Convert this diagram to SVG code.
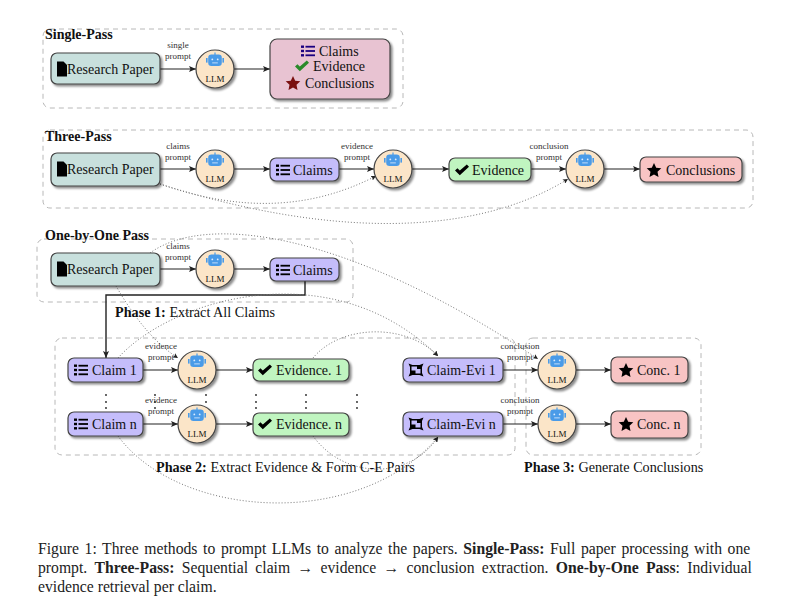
<svg xmlns="http://www.w3.org/2000/svg" width="801" height="614" viewBox="0 0 801 614">
<style>
text{font-family:"Liberation Serif","Times New Roman",serif;fill:#111}
.t{font-size:14px}
.p{font-size:14.2px}
.b{font-size:14px;font-weight:bold}
.c{font-size:15.7px;fill:#222}
.s{font-size:9px;text-anchor:middle;fill:#333}
.l{font-size:9px;text-anchor:middle;fill:#111}
.g{fill:none;stroke:#b8b8b8;stroke-width:1;stroke-dasharray:5 4}
.e{fill:none;stroke:#222;stroke-width:1.2;marker-end:url(#a)}
.d{fill:none;stroke:#777;stroke-width:1;stroke-dasharray:1 2;marker-end:url(#m)}
.n{stroke:#444;stroke-width:1.2;filter:url(#sh)}
.res{fill:#c8e0dd}.all{fill:#e8c3d2}.cl{fill:#c5bdfb}.ev{fill:#c0f5c0}.co{fill:#f8c4c4}.llm{fill:#fbe5c8}
</style>
<defs>
<filter id="sh" x="-20%" y="-20%" width="150%" height="150%"><feDropShadow dx="2" dy="2" stdDeviation="1.2" flood-color="#000" flood-opacity=".45"/></filter>
<marker id="a" markerUnits="userSpaceOnUse" markerWidth="7" markerHeight="6" refX="7" refY="3" orient="auto"><path d="M0 0L7 3L0 6L1.5 3z" fill="#222"/></marker>
<marker id="m" markerUnits="userSpaceOnUse" markerWidth="5" markerHeight="5" refX="5" refY="2.5" orient="auto"><path d="M0 0L5 2.5L0 5L1 2.5z" fill="#222"/></marker>
<g id="doc"><path d="M-5 -7.5H1.5L5 -4V7.5H-5z"/></g>
<g id="list"><rect x="-7" y="-5.5" width="3" height="2.4"/><rect x="-7" y="-1.2" width="3" height="2.4"/><rect x="-7" y="3.1" width="3" height="2.4"/><rect x="-2.5" y="-5.2" width="9.5" height="1.8"/><rect x="-2.5" y="-.9" width="9.5" height="1.8"/><rect x="-2.5" y="3.4" width="9.5" height="1.8"/></g>
<g id="chk"><path d="M-7 .5L-4.6 -1.8L-2.2 .6L4.8 -5.5L7 -3.2L-2.2 5.2z"/></g>
<g id="star"><path d="M0 -7L2.2 -2.3L7.3 -1.7L3.5 1.8L4.5 6.9L0 4.4L-4.5 6.9L-3.5 1.8L-7.3 -1.7L-2.2 -2.3z"/></g>
<g id="pair"><path fill-rule="evenodd" d="M-7.5 -6.5L-3.5 -5H3.5L7.5 -6.5L6 -3V3L7.5 6.5L3.5 5H-3.5L-7.5 6.5L-6 3V-3zM-4.5 -3.5V.5H-.5V3.5H4.5V-1H1V-3.5z"/></g>
<g id="bot"><rect x="-.6" y="-8.5" width="1.2" height="2.5" fill="#4a9be8"/><rect x="-6.8" y="-6.5" width="13.6" height="11.5" rx="3.2" fill="#4a9be8"/><rect x="-9" y="-3" width="1.6" height="4.6" fill="#4a9be8"/><rect x="7.4" y="-3" width="1.6" height="4.6" fill="#4a9be8"/><circle cx="-2.7" cy="-1.6" r=".9" fill="#dcecff"/><circle cx="2.7" cy="-1.6" r=".9" fill="#dcecff"/><rect x="-2.8" y="1.5" width="5.6" height=".8" fill="#dcecff"/></g>
</defs>
<rect width="801" height="614" fill="#fff"/>
<g id="frames">
<rect class="g" x="43" y="29" width="360" height="79" rx="7"/>
<rect class="g" x="43" y="130" width="710" height="78" rx="7"/>
<rect class="g" x="37" y="239" width="316" height="63" rx="7"/>
<rect class="g" x="55" y="338" width="460" height="117" rx="7"/>
<rect class="g" x="526" y="338" width="175" height="117" rx="7"/>
</g>
<g id="connectors">
<path class="e" d="M160 69H196"/><path class="e" d="M234 69H270"/>
<path class="e" d="M160 169H196"/><path class="e" d="M234 169H270"/><path class="e" d="M339 169H374"/><path class="e" d="M412 169H449"/><path class="e" d="M531 169H566"/><path class="e" d="M604 169H640"/>
<path class="d" d="M160 184C240 212 310 210 376 176"/>
<path class="d" d="M160 184C320 235 470 240 568 179"/>
<path class="e" d="M160 269H196"/><path class="e" d="M234 269H270"/>
<path class="e" style="stroke-width:1.4" d="M305 281V295H106V358"/>
<path class="e" d="M143 370H178"/><path class="e" d="M216 370H253"/><path class="e" d="M143 424H178"/><path class="e" d="M216 424H253"/>
<path class="e" d="M503 370H538"/><path class="e" d="M576 370H611"/><path class="e" d="M503 424H538"/><path class="e" d="M576 424H611"/>
<path class="d" d="M150 253C205 213 345 230 538 359"/>
<path class="d" d="M116 286C130 310 150 340 178 358"/>
<path class="d" d="M118 358C170 300 330 250 438 356"/>
<path class="d" d="M313 358C340 325 405 322 438 356"/>
<path class="d" d="M118 436C180 520 360 530 438 437"/>
<path class="d" d="M313 436C345 480 410 480 438 437"/>
</g>
<g id="single-title"><text class="b" x="45" y="39">Single-Pass</text></g>
<g id="three-title"><text class="b" x="45" y="141">Three-Pass</text></g>
<g id="one-title"><text class="b" x="45" y="240">One-by-One Pass</text></g>
<g id="labels">
<text class="s" x="178" y="48">single</text><text class="s" x="178" y="59">prompt</text>
<text class="s" x="178" y="149">claims</text><text class="s" x="178" y="160">prompt</text>
<text class="s" x="357" y="149">evidence</text><text class="s" x="357" y="160">prompt</text>
<text class="s" x="549" y="149">conclusion</text><text class="s" x="549" y="160">prompt</text>
<text class="s" x="178" y="249">claims</text><text class="s" x="178" y="260">prompt</text>
<text class="s" x="161" y="349">evidence</text><text class="s" x="161" y="360">prompt</text>
<text class="s" x="161" y="403">evidence</text><text class="s" x="161" y="414">prompt</text>
<text class="s" x="520" y="349">conclusion</text><text class="s" x="520" y="360">prompt</text>
<text class="s" x="520" y="403">conclusion</text><text class="s" x="520" y="414">prompt</text>
</g>
<g id="n1-paper"><rect class="n res" x="51" y="53" width="109" height="31" rx="6"/><use href="#doc" x="62" y="69"/><text class="t" x="67" y="74">Research Paper</text></g>
<g id="n1-llm"><circle class="n llm" cx="215" cy="69" r="19"/><use href="#bot" x="215" y="61"/><text class="l" x="215" y="82">LLM</text></g>
<g id="n1-out"><rect class="n all" x="270" y="39" width="120" height="60" rx="7"/><use href="#list" x="308" y="51" fill="#1a0080"/><text class="t" x="319" y="56">Claims</text><use href="#chk" x="302" y="66" fill="#2a8a2a"/><text class="t" x="313" y="71">Evidence</text><use href="#star" x="293" y="83" fill="#7a1010"/><text class="t" x="305" y="88">Conclusions</text></g>
<g id="n2-paper"><rect class="n res" x="51" y="153" width="109" height="33" rx="6"/><use href="#doc" x="62" y="169"/><text class="t" x="67" y="174">Research Paper</text></g>
<g id="n2-llm1"><circle class="n llm" cx="215" cy="169" r="19"/><use href="#bot" x="215" y="161"/><text class="l" x="215" y="182">LLM</text></g>
<g id="n2-claims"><rect class="n cl" x="270" y="158" width="69" height="23" rx="6"/><use href="#list" x="283" y="170"/><text class="t" x="293" y="175">Claims</text></g>
<g id="n2-llm2"><circle class="n llm" cx="393" cy="169" r="19"/><use href="#bot" x="393" y="161"/><text class="l" x="393" y="182">LLM</text></g>
<g id="n2-evidence"><rect class="n ev" x="449" y="158" width="82" height="23" rx="6"/><use href="#chk" x="462" y="170"/><text class="t" x="472" y="175">Evidence</text></g>
<g id="n2-llm3"><circle class="n llm" cx="585" cy="169" r="19"/><use href="#bot" x="585" y="161"/><text class="l" x="585" y="182">LLM</text></g>
<g id="n2-conc"><rect class="n co" x="640" y="157" width="102" height="25" rx="6"/><use href="#star" x="654" y="170"/><text class="t" x="666" y="175">Conclusions</text></g>
<g id="n3-paper"><rect class="n res" x="51" y="253" width="109" height="33" rx="6"/><use href="#doc" x="62" y="269"/><text class="t" x="67" y="274">Research Paper</text></g>
<g id="n3-llm"><circle class="n llm" cx="215" cy="269" r="19"/><use href="#bot" x="215" y="261"/><text class="l" x="215" y="282">LLM</text></g>
<g id="n3-claims"><rect class="n cl" x="270" y="258" width="69" height="23" rx="6"/><use href="#list" x="283" y="270"/><text class="t" x="293" y="275">Claims</text></g>
<g id="n4-claim1"><rect class="n cl" x="68" y="358" width="75" height="24" rx="6"/><use href="#list" x="81" y="370"/><text class="t" x="92" y="375">Claim 1</text></g>
<g id="n4-llm1"><circle class="n llm" cx="197" cy="370" r="19"/><use href="#bot" x="197" y="362"/><text class="l" x="197" y="383">LLM</text></g>
<g id="n4-ev1"><rect class="n ev" x="253" y="359" width="96" height="22" rx="6"/><use href="#chk" x="265" y="370"/><text class="t" x="276" y="375">Evidence. 1</text></g>
<g id="n4-pair1"><rect class="n cl" x="403" y="358" width="100" height="24" rx="6"/><use href="#pair" x="416" y="370"/><text class="t" x="427" y="375">Claim-Evi 1</text></g>
<g id="n4-llm3"><circle class="n llm" cx="557" cy="370" r="19"/><use href="#bot" x="557" y="362"/><text class="l" x="557" y="383">LLM</text></g>
<g id="n4-conc1"><rect class="n co" x="611" y="357" width="77" height="26" rx="6"/><use href="#star" x="626" y="370"/><text class="t" x="637" y="375">Conc. 1</text></g>
<g id="n5-claimn"><rect class="n cl" x="68" y="412" width="75" height="24" rx="6"/><use href="#list" x="81" y="424"/><text class="t" x="92" y="429">Claim n</text></g>
<g id="n5-llm1"><circle class="n llm" cx="197" cy="424" r="19"/><use href="#bot" x="197" y="416"/><text class="l" x="197" y="437">LLM</text></g>
<g id="n5-evn"><rect class="n ev" x="253" y="413" width="96" height="23" rx="6"/><use href="#chk" x="265" y="424"/><text class="t" x="276" y="429">Evidence. n</text></g>
<g id="n5-pairn"><rect class="n cl" x="403" y="412" width="100" height="24" rx="6"/><use href="#pair" x="416" y="424"/><text class="t" x="427" y="429">Claim-Evi n</text></g>
<g id="n5-llm3"><circle class="n llm" cx="557" cy="424" r="19"/><use href="#bot" x="557" y="416"/><text class="l" x="557" y="437">LLM</text></g>
<g id="n5-concn"><rect class="n co" x="611" y="411" width="77" height="27" rx="6"/><use href="#star" x="626" y="424"/><text class="t" x="637" y="429">Conc. n</text></g>
<g id="dots" fill="#222">
<circle cx="106" cy="395" r=".9"/><circle cx="106" cy="402" r=".9"/><circle cx="106" cy="408" r=".9"/>
<circle cx="155" cy="395" r=".9"/><circle cx="155" cy="402" r=".9"/><circle cx="155" cy="408" r=".9"/>
<circle cx="206" cy="395" r=".9"/><circle cx="206" cy="402" r=".9"/>
<circle cx="256" cy="395" r=".9"/><circle cx="256" cy="402" r=".9"/><circle cx="256" cy="408" r=".9"/>
<circle cx="306" cy="395" r=".9"/><circle cx="306" cy="402" r=".9"/><circle cx="306" cy="408" r=".9"/>
<circle cx="357" cy="395" r=".9"/><circle cx="357" cy="402" r=".9"/><circle cx="357" cy="408" r=".9"/>
</g>
<g id="phases">
<text class="p" x="115" y="317"><tspan font-weight="bold">Phase 1:</tspan> Extract All Claims</text>
<text class="p" x="156" y="472"><tspan font-weight="bold">Phase 2:</tspan> Extract Evidence &amp; Form C-E Pairs</text>
<text class="p" x="524" y="472"><tspan font-weight="bold">Phase 3:</tspan> Generate Conclusions</text>
</g>
<g id="caption">
<text class="c" x="38" y="554" word-spacing="1.7">Figure 1: Three methods to prompt LLMs to analyze the papers. <tspan font-weight="bold">Single-Pass:</tspan> Full paper processing with one</text>
<text class="c" x="38" y="573" word-spacing="3.4">prompt. <tspan font-weight="bold">Three-Pass:</tspan> Sequential claim → evidence → conclusion extraction. <tspan font-weight="bold">One-by-One Pass</tspan>: Individual</text>
<text class="c" x="38" y="592">evidence retrieval per claim.</text>
</g>
</svg>
